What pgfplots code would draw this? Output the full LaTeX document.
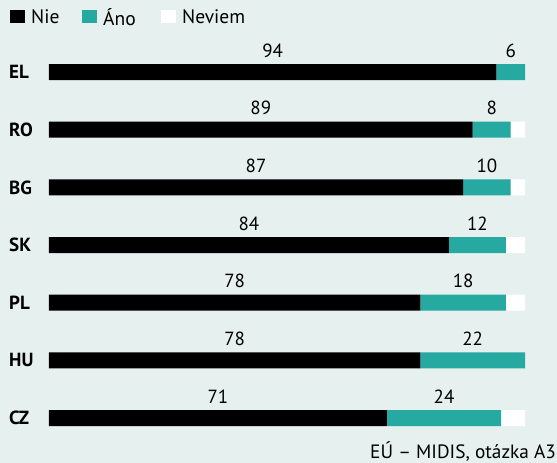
\documentclass[border=0pt]{standalone}
\usepackage{pgfplots}
\pgfplotsset{compat=1.18}
\usepackage{fontspec}
\setmainfont{PT Sans}
\definecolor{bgc}{HTML}{E6F0EF}
\definecolor{ateal}{HTML}{26A9A0}
\begin{document}
\begin{tikzpicture}[x=1pt,y=1pt]
\fill[bgc] (0,0) rectangle (557,463);
\useasboundingbox (0,0) rectangle (557,463);
\pgfplotsset{common/.style={scale only axis, width=476pt, height=403.7pt,
  xmin=0, xmax=100, ymin=-0.5, ymax=6.5, y dir=reverse,
  at={(49pt,16.1pt)}, anchor=south west,
  axis line style={draw=none}, tick style={draw=none}, xtick=\empty, clip=false}}
\begin{axis}[common, xbar stacked, bar width=16pt,
  ytick={0,...,6}, yticklabels={EL,RO,BG,SK,PL,HU,CZ},
  yticklabel style={font=\bfseries\fontsize{19}{19}\selectfont, anchor=west, xshift=-40pt, inner sep=0pt},
  legend columns=-1,
  legend style={at={(axis description cs:-0.0819,1.0872)}, anchor=north west, draw=none, fill=none, inner sep=0pt,
    font=\fontsize{19.5}{19.5}\selectfont, nodes={inner sep=0pt},
    /tikz/every odd column/.append style={column sep=6pt}},
  legend image code/.code={\fill[#1] (0pt,-6pt) rectangle (15pt,7pt);},
  ]
\addplot[fill=black, draw=none] coordinates {(94,0) (89,1) (87,2) (84,3) (78,4) (78,5) (71,6)};
\addplot[fill=ateal, draw=none] coordinates {(6,0) (8,1) (10,2) (12,3) (18,4) (22,5) (24,6)};
\addplot[fill=white, draw=none] coordinates {(0,0) (3,1) (3,2) (4,3) (4,4) (0,5) (5,6)};
\legend{\makebox[51pt][l]{Nie},\makebox[58pt][l]{Áno},Neviem}
\end{axis}
\begin{axis}[common, hide axis,
  every node near coord/.style={anchor=center, yshift=21.5pt, font=\fontsize{19}{19}\selectfont, text=black}]
\addplot[only marks, mark=none, nodes near coords, point meta=explicit symbolic]
  coordinates {(47,0) [94] (44.5,1) [89] (43.5,2) [87] (42,3) [84] (39,4) [78] (39,5) [78] (35.5,6) [71]};
\addplot[only marks, mark=none, nodes near coords, point meta=explicit symbolic]
  coordinates {(97,0) [6] (93,1) [8] (92,2) [10] (90,3) [12] (87,4) [18] (89,5) [22] (83,6) [24]};
\end{axis}
\node[anchor=base west, font=\fontsize{19.3}{19.3}\selectfont, inner sep=0pt] at (370,4) {EÚ – MIDIS, otázka A3};
\end{tikzpicture}
\end{document}
